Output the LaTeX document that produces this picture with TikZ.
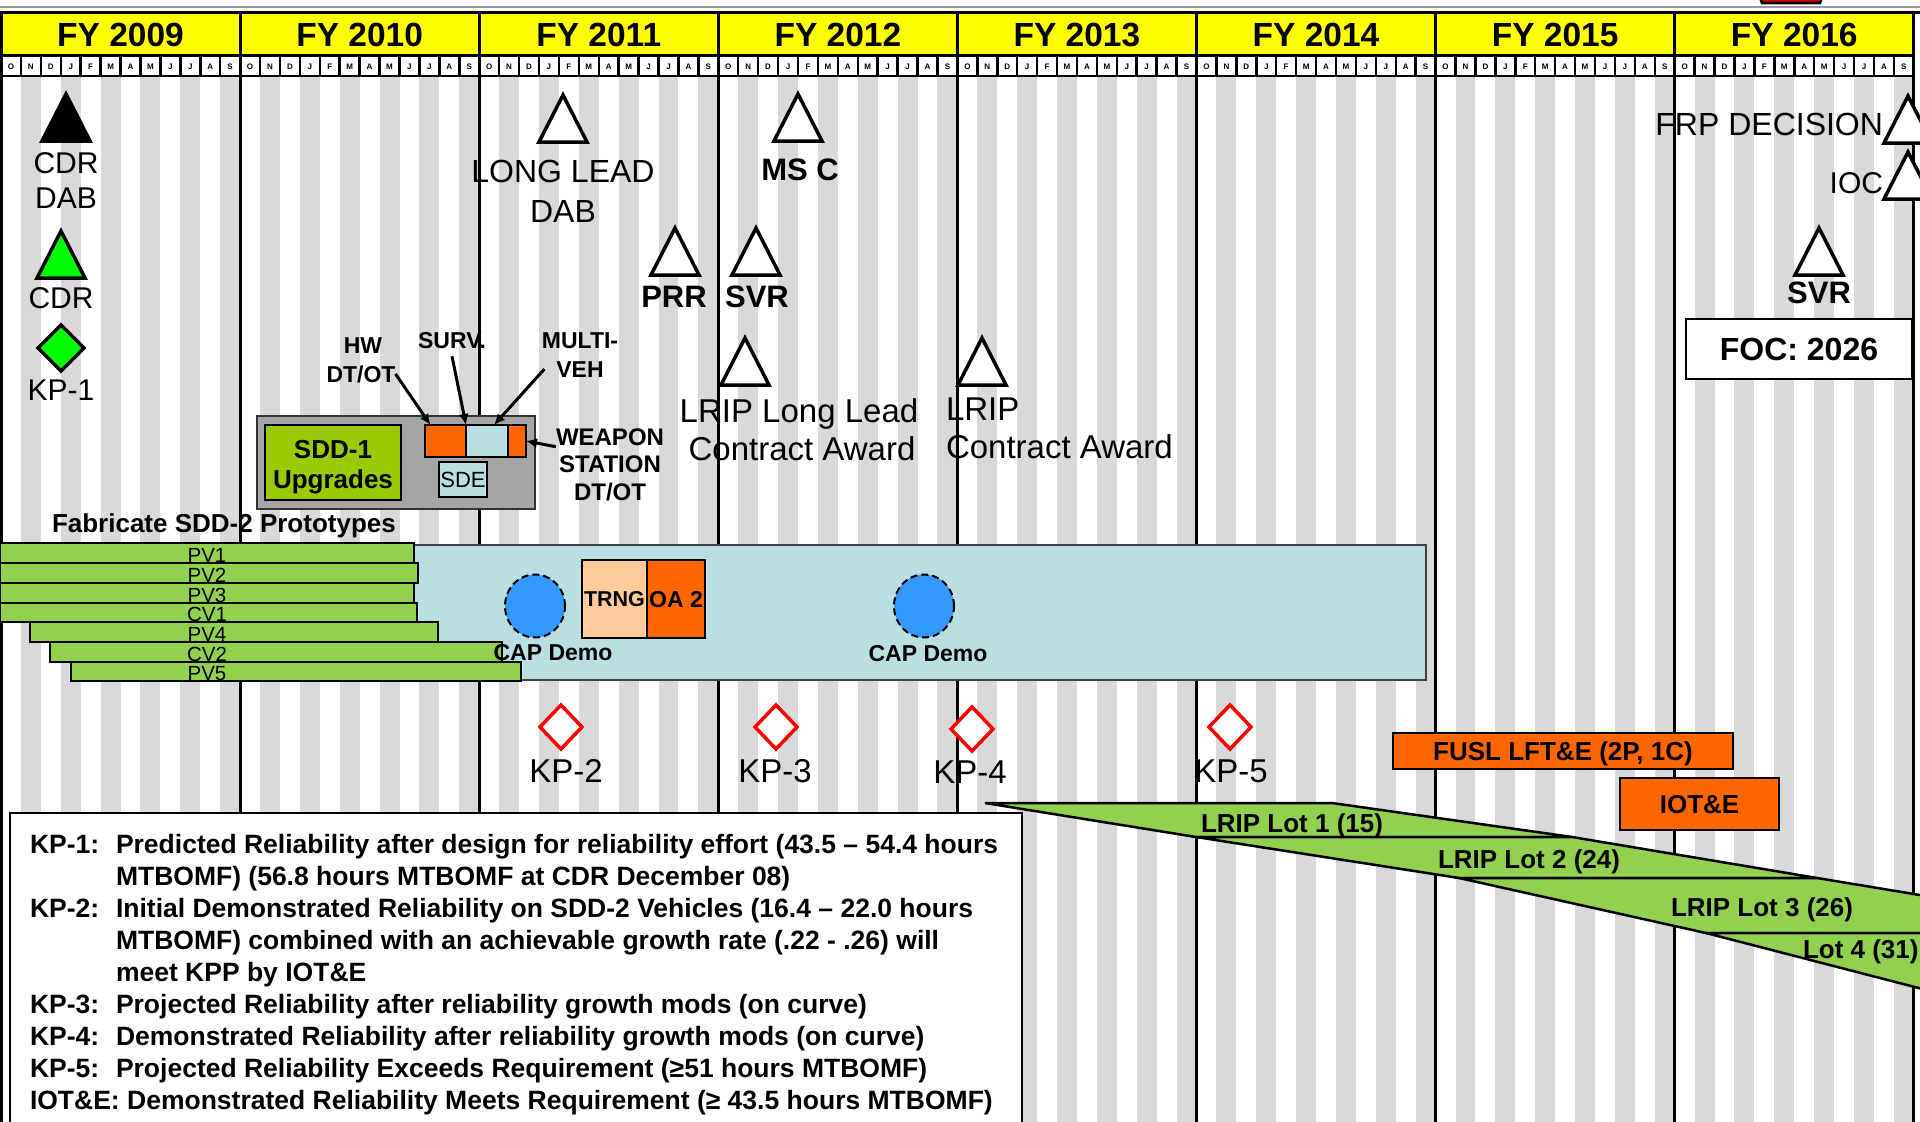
\documentclass[tikz,border=0pt]{standalone}
\usepackage{fontspec}
\setmainfont{Liberation Sans}
\usetikzlibrary{shapes.geometric,arrows.meta}
\definecolor{yel}{HTML}{FFFF00}
\definecolor{stripe}{HTML}{D9D9D9}
\definecolor{pvgreen}{HTML}{92D050}
\definecolor{sddgreen}{HTML}{99CC00}
\definecolor{boxgray}{HTML}{A6A6A6}
\definecolor{ltblue}{HTML}{B9DFE2}
\definecolor{orng}{HTML}{FF6600}
\definecolor{peach}{HTML}{FFCC99}
\definecolor{capblue}{HTML}{3399FF}
\definecolor{brgreen}{HTML}{00FF00}
\definecolor{kpred}{HTML}{FF0000}
\newcommand\fs[1]{\fontsize{#1}{#1}\selectfont}
\newcommand\mstone[4]{\coordinate (#1) at (#2,#3);
  \filldraw[fill=#4,draw=black,line width=3.5pt] (#1) -- ++(24,47) -- ++(-48,0) -- cycle;}
\newcommand\kpdia[7]{\coordinate (#1) at (#2,#3);
  \filldraw[fill=#4,draw=#5,line width=3.5pt] (#2,#3-#7) -- (#2+#6,#3) -- (#2,#3+#7) -- (#2-#6,#3) -- cycle;}
\begin{document}
\begin{tikzpicture}[x=1pt,y=-1pt,
  txt/.style={inner sep=0pt,outer sep=0pt,anchor=base},
  hdr/.style={txt,font=\fs{33.5}\bfseries},
  lab/.style={txt,font=\fs{32}},
  labb/.style={txt,font=\fs{31}\bfseries},
  tag/.style={txt,font=\fs{23}\bfseries},
  pvl/.style={txt,font=\fs{20.5}},
  lotl/.style={txt,font=\fs{26}\bfseries},
  leg/.style={txt,anchor=base west,font=\fs{26.5}\bfseries},
  bx/.style={draw=black,line width=1.5pt,inner sep=0pt,outer sep=0pt,text depth=0pt,anchor=center},
  arr/.style={line width=3pt,-{Latex[length=11pt,width=10pt]}}]
\useasboundingbox (0,0) rectangle (1920,1122);
\clip (0,0) rectangle (1920,1122);
\fill[white] (0,0) rectangle (1920,1122);
% top border line and peeking shape
\draw[black!40,line width=2pt] (0,7) -- (1920,7);
\filldraw[fill=red!80!black,draw=black,line width=2.5pt] (1757,-10) -- (1762,3) -- (1820,3) -- (1825,-10) -- cycle;
% stripes
\foreach \i in {0,...,7} \foreach \k in {0,...,5}
  \fill[stripe] ({1+239.1*\i+19.925*(2*\k+1)},77) rectangle ++(19.925,1050);
% header
\fill[yel] (1,12) rectangle (1914,55);
\foreach \i/\t in {0/2009,1/2010,2/2011,3/2012,4/2013,5/2014,6/2015,7/2016}
  \node[hdr] (fy\t) at ({1+239.1*(\i+0.5)},46) {FY \t};
\fill[white] (1,55) rectangle (1914,76);
\foreach \i in {0,...,7} \foreach \m/\L in {0/O,1/N,2/D,3/J,4/F,5/M,6/A,7/M,8/J,9/J,10/A,11/S} {
  \draw[line width=2.5pt] ({1+239.1*\i+19.925*\m},55) -- ++(0,21);
  \node[font=\fs{8}\bfseries,inner sep=0pt] (mo-\i-\m) at ({1+239.1*\i+19.925*(\m+0.5)},66.5) {\L};
}
\draw[line width=2pt] (1,76) -- (1914,76);
\draw[line width=3pt] (0,12) -- (1920,12);
\draw[line width=3pt] (0,55) -- (1914,55);
% year lines
\foreach \i in {0,...,8} \draw[line width=3pt] ({1+239.1*\i},12) -- ++(0,1115);

% development bar
\node[bx,fill=ltblue,draw=black!75,line width=2pt,minimum width=1126,minimum height=135,anchor=north west] (devbar) at (300,545) {};
% prototype bars
\foreach \n/\xa/\xb/\ya/\yb/\t in {pv1/0/414/543/563/PV1,pv2/0/418/563/583/PV2,pv3/0/414/583/603/PV3,cv1/0/417/603/622/CV1,pv4/30/438/622/642/PV4,cv2/50/502/642/662/CV2,pv5/71/521/662/681/PV5} {
  \filldraw[fill=pvgreen,draw=black,line width=1.5pt] (\xa,\ya) rectangle (\xb,\yb);
  \node[pvl] (\n) at (207,\yb-0.5) {\t};
}
\node[txt,anchor=base west,font=\fs{26}\bfseries] (tfab) at (52,532) {Fabricate SDD-2 Prototypes};
% CAP demos
\node[ellipse,fill=capblue,draw=black,dash pattern=on 7pt off 4pt,line width=2pt,minimum width=60,minimum height=63,inner sep=0pt] (cap1) at (535,606) {};
\node[ellipse,fill=capblue,draw=black,dash pattern=on 7pt off 4pt,line width=2pt,minimum width=60,minimum height=63,inner sep=0pt] (cap2) at (924,606) {};
\node[txt,font=\fs{23}\bfseries] (cap1t) at (553,660) {CAP Demo};
\node[txt,font=\fs{23}\bfseries] (cap2t) at (928,661) {CAP Demo};
% TRNG / OA 2
\node[bx,fill=peach,minimum width=65,minimum height=78,font=\fs{21.5}\bfseries,text height=15.4pt] (trng) at (614.5,599) {TRNG};
\node[bx,fill=orng,minimum width=58,minimum height=78,font=\fs{23}\bfseries,text height=16.5pt] (oa2) at (676,599) {OA 2};

% SDD-1 group
\node[bx,fill=boxgray,draw=black!80,minimum width=278,minimum height=93] (sddgrp) at (396,462.5) {};
\node[bx,fill=sddgreen,minimum width=136,minimum height=75] (sdd1) at (333,462.5) {};
\node[txt,font=\fs{26}\bfseries] (sdd1a) at (333,458) {SDD-1};
\node[txt,font=\fs{26}\bfseries] (sdd1b) at (333,488) {Upgrades};
\node[bx,fill=orng,minimum width=41,minimum height=32] (hwbox) at (445.5,441) {};
\node[bx,fill=ltblue,minimum width=42,minimum height=32] (mvbox) at (487,441) {};
\node[bx,fill=orng,minimum width=18,minimum height=32] (wsbox) at (517,441) {};
\node[bx,fill=ltblue,minimum width=48,minimum height=35,font=\fs{22},text height=15.8pt] (sde) at (463,479.5) {SDE};
\node[tag] (hw1) at (363,353) {HW};
\node[tag] (hw2) at (361,382) {DT/OT};
\node[tag] (surv) at (452,348) {SURV.};
\node[tag] (mv1) at (580,348) {MULTI-};
\node[tag] (mv2) at (580,377) {VEH};
\node[tag,font=\fs{24}\bfseries] (ws1) at (610,445) {WEAPON};
\node[tag,font=\fs{24}\bfseries] (ws2) at (610,472) {STATION};
\node[tag,font=\fs{24}\bfseries] (ws3) at (610,500) {DT/OT};
\draw[arr] (hw2.east) -- ([xshift=-15pt]hwbox.north);
\draw[arr] ([yshift=-8pt]surv.south) -- (hwbox.north east);
\draw[arr] ([xshift=-12pt]mv2.west) -- ([xshift=7pt]mvbox.north);
\draw[arr] ([yshift=-10pt]ws1.west) -- (wsbox.east);

% milestones
\mstone{mcdrdab}{66}{94}{black}
\mstone{mcdr}{61}{231}{brgreen}
\mstone{mlld}{563}{95}{white}
\mstone{mmsc}{798}{94}{white}
\mstone{mprr}{675}{228}{white}
\mstone{msvr}{756}{228}{white}
\mstone{mlrll}{745}{338}{white}
\mstone{mlrip}{982}{338}{white}
\mstone{msvr2}{1819}{228}{white}
\mstone{mfrp}{1908}{96}{white}
\mstone{mioc}{1908}{152}{white}
\node[lab,font=\fs{30}] (tcdr) at (66,173) {CDR};
\node[lab,font=\fs{30}] (tdab) at (66,208) {DAB};
\node[lab,font=\fs{30}] (tcdr2) at (61,308) {CDR};
\node[lab,font=\fs{30}] (tkp1) at (61,400) {KP-1};
\node[lab] (tlld1) at (563,182) {LONG LEAD};
\node[lab] (tlld2) at (563,222) {DAB};
\node[labb] (tmsc) at (800,180) {MS C};
\node[labb] (tprr) at (674,307) {PRR};
\node[labb] (tsvr) at (757,307) {SVR};
\node[lab,font=\fs{33}] (tlrll1) at (799,422) {LRIP Long Lead};
\node[lab,font=\fs{33}] (tlrll2) at (802,460) {Contract Award};
\node[lab,font=\fs{33},anchor=base west] (tlrip1) at (946,420) {LRIP};
\node[lab,font=\fs{33},anchor=base west] (tlrip2) at (946,458) {Contract Award};
\node[lab,anchor=base east] (tfrp) at (1883,135) {FRP DECISION};
\node[lab,anchor=base east,font=\fs{30}] (tioc) at (1883,193) {IOC};
\node[labb] (tsvr2) at (1819,303) {SVR};
\node[bx,fill=white,line width=2pt,minimum width=226,minimum height=60,font=\fs{32}\bfseries,text height=23pt] (foc) at (1799,349) {FOC: 2026};

% knowledge points
\kpdia{dkp1}{61}{348}{brgreen}{black}{23}{23}
\kpdia{dkp2}{561}{727}{white}{kpred}{21}{22}
\kpdia{dkp3}{776}{727}{white}{kpred}{21}{22}
\kpdia{dkp4}{972}{729}{white}{kpred}{21}{22}
\kpdia{dkp5}{1230}{727}{white}{kpred}{21}{22}
\node[lab,font=\fs{33}] (tkp2) at (566,782) {KP-2};
\node[lab,font=\fs{33}] (tkp3) at (775,782) {KP-3};
\node[lab,font=\fs{33}] (tkp4) at (970,783) {KP-4};
\node[lab,font=\fs{33}] (tkp5) at (1231,782) {KP-5};

% legend
\node[bx,fill=white,line width=2.5pt,minimum width=1012,minimum height=330,anchor=north west] (legend) at (10,813) {};
\node[leg] (l1a) at (30,853) {KP-1:};
\node[leg] (l1b) at (116,853) {Predicted Reliability after design for reliability effort (43.5 -- 54.4 hours};
\node[leg] (l2b) at (116,885) {MTBOMF) (56.8 hours MTBOMF at CDR December 08)};
\node[leg] (l3a) at (30,917) {KP-2:};
\node[leg] (l3b) at (116,917) {Initial Demonstrated Reliability on SDD-2 Vehicles (16.4 -- 22.0 hours};
\node[leg] (l4b) at (116,949) {MTBOMF) combined with an achievable growth rate (.22 - .26) will};
\node[leg] (l5b) at (116,981) {meet KPP by IOT\&E};
\node[leg] (l6a) at (30,1013) {KP-3:};
\node[leg] (l6b) at (116,1013) {Projected Reliability after reliability growth mods (on curve)};
\node[leg] (l7a) at (30,1045) {KP-4:};
\node[leg] (l7b) at (116,1045) {Demonstrated Reliability after reliability growth mods (on curve)};
\node[leg] (l8a) at (30,1077) {KP-5:};
\node[leg] (l8b) at (116,1077) {Projected Reliability Exceeds Requirement (≥51 hours MTBOMF)};
\node[leg] (l9) at (30,1109) {IOT\&E: Demonstrated Reliability Meets Requirement (≥ 43.5 hours MTBOMF)};

% LRIP lots
\filldraw[fill=pvgreen,draw=black,line width=2.5pt] (985,803) -- (1332,803) -- (1572,837) -- (1196,837) -- cycle;
\filldraw[fill=pvgreen,draw=black,line width=2.5pt] (1196,837) -- (1572,837) -- (1817,878) -- (1459,878) -- cycle;
\filldraw[fill=pvgreen,draw=black,line width=2.5pt] (1459,878) -- (1817,878) -- (2150,933) -- (1706,933) -- cycle;
\filldraw[fill=pvgreen,draw=black,line width=2.5pt] (1706,933) -- (2050,933) -- (2050,1022) -- cycle;
\node[lotl] (lot1) at (1292,832) {LRIP Lot 1 (15)};
\node[lotl] (lot2) at (1529,868) {LRIP Lot 2 (24)};
\node[lotl] (lot3) at (1762,916) {LRIP Lot 3 (26)};
\node[lotl,anchor=base west] (lot4) at (1803,958) {Lot 4 (31)};
% test events
\node[bx,fill=orng,line width=2pt,minimum width=340,minimum height=36,font=\fs{26}\bfseries,text height=18.6pt] (fusl) at (1563,751) {FUSL LFT\&E (2P, 1C)};
\node[bx,fill=orng,line width=2pt,minimum width=159,minimum height=52,font=\fs{26}\bfseries,text height=18.6pt] (iote) at (1699.5,804) {IOT\&E};
\end{tikzpicture}
\end{document}
